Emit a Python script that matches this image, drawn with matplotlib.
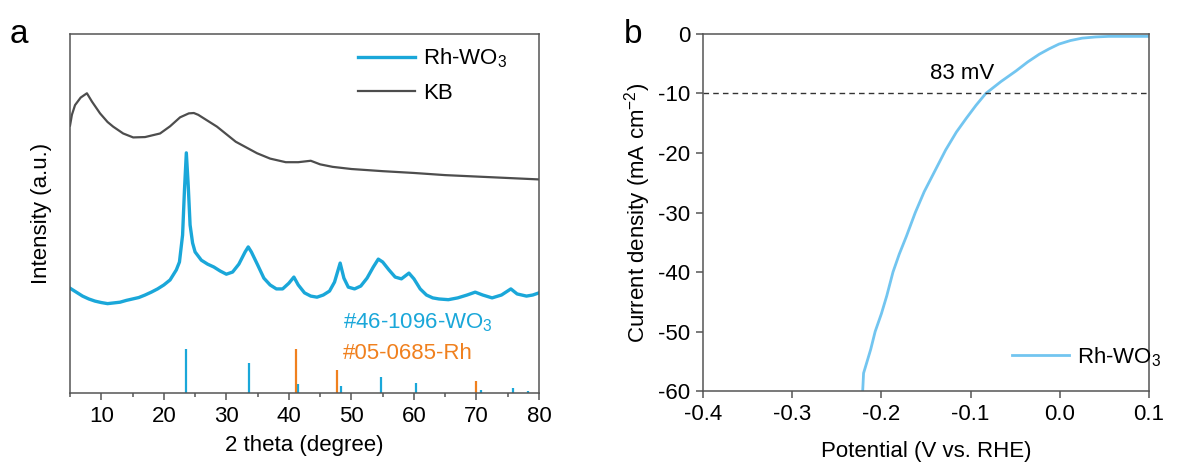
import matplotlib.pyplot as plt
from matplotlib.ticker import MultipleLocator

plt.rcParams["font.family"] = ["Liberation Sans", "DejaVu Sans"]
plt.rcParams["mathtext.fontset"] = "custom"
plt.rcParams["mathtext.rm"] = "Liberation Sans"
plt.rcParams["mathtext.it"] = "Liberation Sans:italic"
plt.rcParams["axes.unicode_minus"] = False

# panel a: XRD (arbitrary units)
wo3_2theta = [5, 6, 7, 8, 9, 10, 11, 12, 13, 14, 15, 16, 17, 18, 19, 20, 21, 22, 22.5, 23,
              23.3, 23.6, 23.9, 24.2, 24.6, 25, 26, 27, 28, 29, 30, 31, 32, 33, 33.5, 34, 35,
              36, 37, 38, 39, 40, 40.8, 41.5, 42.5, 43.5, 44.5, 45.5, 46.5, 47.3, 48.2, 48.8,
              49.5, 50.5, 51.5, 52.5, 53.5, 54.3, 55, 56, 57, 58, 59.2, 60, 61, 62, 63, 64,
              65.5, 67, 68.5, 69.8, 71, 72.5, 74, 75.5, 76.5, 78, 79, 80]
wo3_int = [29.2, 28.1, 27.0, 26.2, 25.6, 25.2, 24.9, 25.1, 25.3, 25.8, 26.2, 26.6, 27.3, 28.1,
           29.0, 30.1, 31.5, 34.3, 36.5, 44.0, 56.5, 66.9, 57.9, 46.8, 41.8, 39.3, 37.0, 35.9,
           35.1, 34.0, 33.1, 33.7, 35.9, 39.3, 40.7, 39.3, 35.7, 32.0, 30.1, 29.0, 29.0, 30.6,
           32.3, 30.1, 27.9, 27.0, 26.7, 27.3, 28.4, 30.9, 36.2, 32.0, 29.5, 29.0, 29.8, 32.0,
           35.1, 37.3, 36.5, 34.3, 32.3, 31.8, 33.4, 31.8, 29.0, 27.3, 26.5, 26.2, 26.0, 26.5,
           27.3, 28.1, 27.3, 26.5, 27.3, 29.0, 27.6, 27.0, 27.3, 27.9]

kb_2theta = [5, 5.3, 5.8, 6.7, 7.7, 8.5, 9.8, 11, 11.9, 13.5, 15.1, 17, 19.4, 21, 22.6, 24,
             24.8, 25.5, 28.5, 31.5, 34.9, 37, 39.5, 41.5, 43.5, 45, 47, 50, 55, 60, 65, 70,
             75, 80]
kb_int = [74.5, 77.5, 80.2, 82.3, 83.5, 81.2, 77.9, 75.5, 74.2, 72.3, 71.2, 71.3, 72.3, 74.3,
          76.8, 77.9, 78.0, 77.5, 74.2, 70.0, 66.8, 65.3, 64.3, 64.3, 64.7, 63.7, 63.0, 62.4,
          61.8, 61.3, 60.7, 60.3, 59.9, 59.5]

pdf_wo3_pos = [23.6, 33.7, 41.5, 48.4, 54.7, 60.3, 70.8, 75.9, 78.2]
pdf_wo3_h = [12.4, 8.5, 2.5, 2.0, 4.5, 2.9, 0.8, 1.5, 0.6]
pdf_rh_pos = [41.1, 47.7, 69.9]
pdf_rh_h = [12.4, 6.4, 3.3]

# panel b: LSV
potential = [-0.221, -0.220, -0.216, -0.212, -0.207, -0.200, -0.194, -0.187, -0.180, -0.172,
             -0.162, -0.152, -0.140, -0.128, -0.116, -0.105, -0.094, -0.083, -0.066, -0.049,
             -0.036, -0.023, -0.012, -0.001, 0.012, 0.025, 0.040, 0.055, 0.1]
current = [-60, -57, -55, -53, -50, -47, -44, -40, -37, -34, -30, -26.5, -23, -19.5, -16.5,
           -14.2, -12, -10, -8.0, -6.2, -4.7, -3.4, -2.5, -1.7, -1.1, -0.7, -0.5, -0.4, -0.4]

c_wo3 = "#1aa7d9"
c_lsv = "#72c5f0"
c_rh = "#f0801e"
c_kb = "#4d4d4d"
spine_c = "#555555"

fig = plt.figure(figsize=(11.93, 4.65), dpi=100)
ax1 = fig.add_axes([0.0587, 0.1548, 0.3931, 0.7720])
ax2 = fig.add_axes([0.5893, 0.1591, 0.3738, 0.7678])

ax1.plot(wo3_2theta, wo3_int, color=c_wo3, lw=2.4, label="Rh-WO$_3$")
ax1.plot(kb_2theta, kb_int, color=c_kb, lw=1.6, label="KB")
ax1.vlines(pdf_wo3_pos, 0, pdf_wo3_h, color=c_wo3, lw=1.6)
ax1.vlines(pdf_rh_pos, 0, pdf_rh_h, color=c_rh, lw=1.6)
ax1.set_xlim(5, 80)
ax1.set_ylim(0, 100)
ax1.set_yticks([])
ax1.xaxis.set_major_locator(MultipleLocator(10))
ax1.xaxis.set_minor_locator(MultipleLocator(5))
ax1.set_xlabel("2 theta (degree)", fontsize=16, labelpad=6)
ax1.set_ylabel("Intensity (a.u.)", fontsize=16, labelpad=13)
ax1.text(0.582, 0.195, "#46-1096-WO$_3$", color=c_wo3, fontsize=16,
         transform=ax1.transAxes, va="center")
ax1.text(0.582, 0.111, "#05-0685-Rh", color=c_rh, fontsize=16,
         transform=ax1.transAxes, va="center")
ax1.legend(loc="upper left", bbox_to_anchor=(0.58, 1.008), frameon=False, fontsize=16,
           handlelength=2.6, handletextpad=0.35, labelspacing=0.55, borderaxespad=0.3)

ax2.plot(potential, current, color=c_lsv, lw=2, label="Rh-WO$_3$")
ax2.axhline(-10, color="#333333", lw=1, ls=(0, (4, 3)))
ax2.text(-0.11, -6.7, "83 mV", fontsize=16, ha="center", va="center")
ax2.set_xlim(-0.4, 0.1)
ax2.set_ylim(-60, 0)
ax2.xaxis.set_major_locator(MultipleLocator(0.1))
ax2.yaxis.set_major_locator(MultipleLocator(10))
ax2.set_xlabel("Potential (V vs. RHE)", fontsize=16, labelpad=12)
ax2.set_ylabel("Current density (mA cm$^{-2}$)", fontsize=16, labelpad=4)
ax2.legend(loc="lower right", bbox_to_anchor=(1.078, 0.0), frameon=False, fontsize=16,
           handlelength=2.6, handletextpad=0.35, borderaxespad=0.6)

for ax in (ax1, ax2):
    for s in ax.spines.values():
        s.set_color(spine_c)
        s.set_linewidth(1.1)
    ax.tick_params(which="major", direction="out", length=5, width=1.1, color=spine_c,
                   labelsize=16, pad=4)
    ax.tick_params(which="minor", direction="out", length=3, width=1.1, color=spine_c)

fig.text(0.008, 0.925, "a", fontsize=24, va="center")
fig.text(0.523, 0.925, "b", fontsize=24, va="center")

fig.savefig("out.png", dpi=100)
